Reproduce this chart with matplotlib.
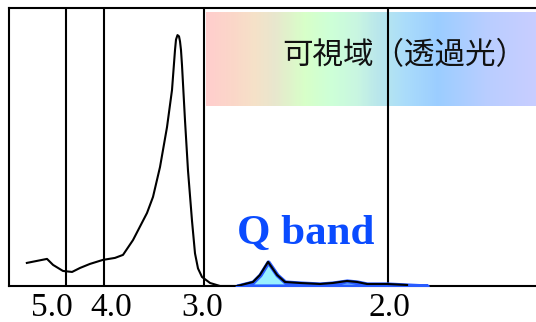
import numpy as np
import matplotlib
matplotlib.use('Agg')
import matplotlib.pyplot as plt
from matplotlib.transforms import ScaledTranslation

# absorption spectrum (photon energy in eV, normalised absorbance)
energy = [6.03, 5.50, 5.34, 5.08, 4.84, 4.63, 4.37, 4.03, 3.89, 3.81, 3.71, 3.57,
          3.51, 3.44, 3.37, 3.32, 3.29, 3.28, 3.265, 3.25, 3.24, 3.23, 3.22, 3.19,
          3.16, 3.12, 3.09, 3.06, 3.02, 2.967, 2.913, 2.82, 2.734, 2.696, 2.652,
          2.603, 2.56, 2.478, 2.37, 2.30, 2.223, 2.168, 2.114, 2.005, 1.897]
absorb = [0.092, 0.108, 0.084, 0.060, 0.056, 0.072, 0.088, 0.104, 0.112, 0.124, 0.183, 0.291,
          0.355, 0.474, 0.633, 0.781, 0.94, 0.982, 1.0, 0.995, 0.975, 0.94, 0.88, 0.66,
          0.46, 0.26, 0.13, 0.07, 0.036, 0.012, 0.0, 0.0, 0.016, 0.044, 0.096,
          0.044, 0.016, 0.012, 0.008, 0.012, 0.02, 0.016, 0.008, 0.008, 0.004]

# Q band region (filled)
q_energy = [2.82, 2.734, 2.696, 2.652, 2.603, 2.56, 2.478, 2.37, 2.30, 2.223,
            2.168, 2.114, 2.005, 1.897, 1.788]
q_absorb = [0.0, 0.016, 0.044, 0.096, 0.044, 0.016, 0.012, 0.008, 0.012, 0.02,
            0.016, 0.008, 0.008, 0.004, 0.0]

tick_vals = [5.0, 4.0, 3.0, 2.0]
tick_labels = ['5.0', '4.0', '3.0', '2.0']

# visible band colour stops (eV, rgb 0-255)
vis_stops = [2.989, 2.837, 2.728, 2.620, 2.457, 2.310, 2.168, 2.060, 2.005,
             1.913, 1.734, 1.462, 1.2]
vis_colors = [(255, 205, 205), (250, 215, 200), (245, 225, 200), (232, 230, 205),
              (215, 255, 200), (205, 255, 215), (200, 245, 225), (185, 230, 235),
              (180, 228, 240), (170, 220, 250), (155, 205, 255), (185, 205, 255),
              (200, 205, 255)]

# hand drawn, non uniform energy axis
axis_ev = [1.2, 2.0, 3.0, 4.0, 5.0, 6.5]
axis_pos = [0, 148, 332, 432, 470, 527]


def fwd(e):
    return np.interp(e, axis_ev, axis_pos)


def inv(p):
    return np.interp(p, axis_pos, axis_ev)


fig = plt.figure(figsize=(5.36, 3.22), dpi=100)
ax = fig.add_axes([9 / 536, 36 / 322, 527 / 536, 278 / 322])
ax.set_xscale('function', functions=(fwd, inv))
ax.set_xlim(6.5, 1.2)
ax.set_ylim(0, 1.108)

# visible light band
xs = np.linspace(vis_stops[0], vis_stops[-1], 300)
cols = np.array(vis_colors) / 255.0
r = np.interp(-xs, -np.array(vis_stops), cols[:, 0])
g = np.interp(-xs, -np.array(vis_stops), cols[:, 1])
b = np.interp(-xs, -np.array(vis_stops), cols[:, 2])
for i in range(len(xs) - 1):
    ax.fill_between([xs[i], xs[i + 1]], 0.717, 1.092, color=(r[i], g[i], b[i]), lw=0, zorder=1)

for v in tick_vals:
    ax.axvline(v, color='black', lw=1.5, zorder=2)

ax.text(1.255, 0.92, '可視域（透過光）', ha='right', va='center', fontsize=22,
        family=['Noto Sans CJK JP', 'DejaVu Sans'], color='#111111', zorder=3)

ax.fill_between(q_energy, 0, q_absorb, facecolor='#99f0ff', edgecolor='#2a5cff',
                lw=3, zorder=3)
ax.plot(energy, absorb, color='black', lw=1.5, zorder=4)

ax.text(2.82, 0.167, 'Q band', ha='left', va='baseline', fontsize=31,
        family='Liberation Serif', fontweight='bold', color='#0a4bff', zorder=5)

ax.set_xticks(tick_vals)
ax.set_xticklabels(tick_labels, family='Liberation Serif', fontsize=24)
ax.tick_params(axis='x', length=0, pad=5)
ax.set_yticks([])
label_shift = [-14, 7, -2, 1]
for lab, dx in zip(ax.get_xticklabels(), label_shift):
    lab.set_transform(lab.get_transform() + ScaledTranslation(dx / 100, 0, fig.dpi_scale_trans))

ax.spines['right'].set_visible(False)
for s in ['top', 'left', 'bottom']:
    ax.spines[s].set_linewidth(1.5)

fig.savefig('out.png', dpi=100)
